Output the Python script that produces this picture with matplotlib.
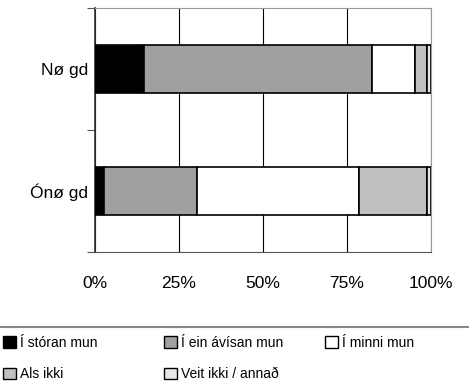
import matplotlib.pyplot as plt
from matplotlib.patches import Patch

plt.rcParams['font.family'] = ['Liberation Sans', 'DejaVu Sans']

# data (percent of respondents)
groups = ['Ónø gd', 'Nø gd']
series = ['Í stóran mun', 'Í ein ávísan mun', 'Í minni mun', 'Als ikki', 'Veit ikki / annað']
colors = ['#000000', '#a0a0a0', '#ffffff', '#c0c0c0', '#e6e6e6']
vals_stor = [2.7, 14.6]
vals_ein = [27.6, 67.7]
vals_minni = [48.4, 12.9]
vals_als = [20.2, 3.7]
vals_veit = [1.1, 1.1]

values = [vals_stor, vals_ein, vals_minni, vals_als, vals_veit]

fig = plt.figure(figsize=[4.69, 3.87], dpi=100)
ax = fig.add_axes([0.2026, 0.349, 0.7164, 0.630])

ypos = [0.5, 1.5]
left = [0, 0]
for vals, col in zip(values, colors):
    ax.barh(ypos, vals, left=left, height=0.4, color=col,
            edgecolor='black', linewidth=1.2, zorder=3)
    left = [l + v for l, v in zip(left, vals)]

ax.set_xlim(0, 100)
ax.set_ylim(0, 2)
ax.set_xticks([0, 25, 50, 75, 100])
ax.set_xticklabels(['0%', '25%', '50%', '75%', '100%'], fontsize=12.5)
ax.xaxis.grid(True, color='black', linewidth=0.8, zorder=0)
ax.tick_params(axis='x', length=0, pad=17)

ax.set_yticks([0, 1, 2])
ax.set_yticklabels([])
ax.set_yticks(ypos, minor=True)
ax.set_yticklabels(groups, minor=True, fontsize=12.5)
ax.tick_params(axis='y', which='minor', length=0, pad=5)
ax.tick_params(axis='y', which='major', length=6, width=0.8, color='#555555')

for s in ['top', 'right']:
    ax.spines[s].set_color('#999999')
ax.spines['bottom'].set_color('#555555')
ax.spines['left'].set_color('#333333')
ax.spines['left'].set_linewidth(1.2)

# separator above legend
fig.add_artist(plt.Line2D([0, 1], [1 - 327 / 387, 1 - 327 / 387],
                          color='#888888', linewidth=1.5))

# legend, laid out in three fixed columns (row-major like the original)
handles = [Patch(facecolor=c, edgecolor='black', linewidth=1) for c in colors]
columns = [[0, 3], [1, 4], [2]]
col_x = [3 / 469, 164 / 469, 325 / 469]
for idx, x in zip(columns, col_x):
    fig.legend([handles[i] for i in idx], [series[i] for i in idx],
               loc='upper left', bbox_to_anchor=(x, 1 - 336 / 387),
               frameon=False, fontsize=10, handlelength=0.9, handleheight=0.9,
               handletextpad=0.3, labelspacing=1.25,
               borderaxespad=0, borderpad=0)

fig.savefig('out.png', dpi=100)
